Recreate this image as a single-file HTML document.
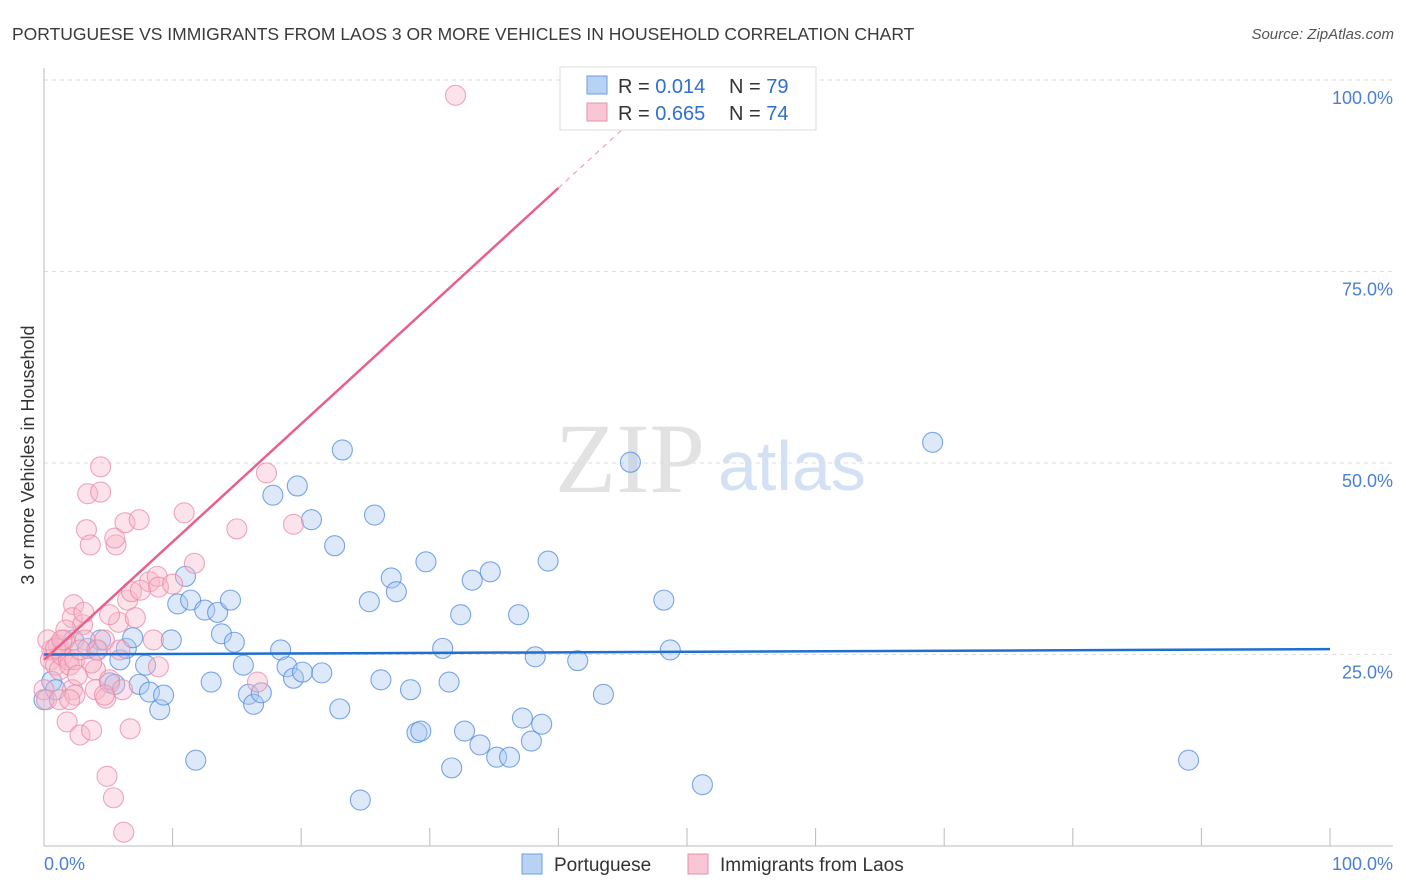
<!DOCTYPE html>
<html><head><meta charset="utf-8"><style>
body{margin:0;background:#fff;font-family:"Liberation Sans",sans-serif}
svg{display:block}
</style></head><body>
<svg id="c" width="1406" height="892">
<text x="12" y="40" font-size="17.5" fill="#3a3a3a">PORTUGUESE VS IMMIGRANTS FROM LAOS 3 OR MORE VEHICLES IN HOUSEHOLD CORRELATION CHART</text>
<text x="1394" y="39" font-size="15" fill="#555" font-style="italic" text-anchor="end">Source: ZipAtlas.com</text>
<text transform="translate(34,455) rotate(-90)" font-size="18" fill="#333" text-anchor="middle">3 or more Vehicles in Household</text>
<text x="555" y="492" font-size="100" fill="#e2e2e2" font-family="Liberation Serif,serif">ZIP</text>
<text x="718" y="490" font-size="70" fill="#d3e1f5">atlas</text>
<g id="grid"></g><g id="marks"></g><g id="lines"></g>
<g>
<rect x="560" y="67" width="256" height="63" fill="#fff" stroke="#ddd"/>
<rect x="587" y="76" width="20" height="18" fill="#b8d2f4" stroke="#6b9de0"/>
<rect x="587" y="103" width="20" height="18" fill="#f9c6d6" stroke="#ea8fab"/>
<text x="618" y="93" font-size="20" fill="#333">R = <tspan fill="#2f6fd0">0.014</tspan></text>
<text x="729" y="93" font-size="20" fill="#333">N = <tspan fill="#2f6fd0">79</tspan></text>
<text x="618" y="120" font-size="20" fill="#333">R = <tspan fill="#2f6fd0">0.665</tspan></text>
<text x="729" y="120" font-size="20" fill="#333">N = <tspan fill="#2f6fd0">74</tspan></text>
</g>
<g>
<rect x="522" y="854" width="20" height="20" fill="#b8d2f4" stroke="#6b9de0"/>
<text x="554" y="871" font-size="19" fill="#333">Portuguese</text>
<rect x="688" y="854" width="20" height="20" fill="#f9c6d6" stroke="#ea8fab"/>
<text x="720" y="871" font-size="19" fill="#333">Immigrants from Laos</text>
</g>
</svg>
<script>
const blueX=[0,0.6,0.9,2.3,3.4,4.4,4.1,5.1,5.5,5.9,6.4,6.9,7.4,7.9,8.2,9.0,9.3,9.9,10.4,11.0,11.4,11.8,12.5,13.0,13.5,13.8,14.5,14.8,15.5,15.9,16.3,16.9,17.8,18.4,18.9,19.4,19.7,20.1,20.8,21.6,22.6,23.0,23.2,24.6,25.3,25.7,26.2,27.0,27.4,28.5,29.0,29.3,29.7,31.0,31.5,31.7,32.4,32.7,33.3,33.9,34.7,35.2,36.2,36.9,37.2,37.9,38.2,38.7,39.2,41.5,43.5,45.6,48.2,48.7,51.2,69.1,89.0];
const blueY=[19.1,21.5,20.4,26.9,25.8,26.9,25.6,21.3,21.1,24.3,25.8,27.2,21.1,23.6,20.1,17.8,19.7,26.9,31.6,35.2,32.1,11.2,30.8,21.4,30.5,27.7,32.1,26.6,23.6,19.8,18.5,20.0,45.8,25.6,23.4,21.9,47.0,22.7,42.6,22.6,39.2,17.9,51.7,6.0,31.9,43.2,21.7,35.0,33.2,20.4,14.8,15.0,37.1,25.8,21.4,10.2,30.2,15.0,34.7,13.2,35.8,11.6,11.6,30.2,16.7,13.7,24.7,15.9,37.2,24.2,19.8,50.1,32.1,25.6,8.0,52.7,11.2];
const pinkX=[0,0.2,0.5,0.6,0.9,1.1,1.2,1.4,1.6,1.9,2.0,2.2,2.4,2.6,1.8,2.3,2.2,2.8,3.0,3.1,3.3,3.4,3.6,3.7,4.0,4.0,4.2,4.4,4.4,4.7,4.8,4.9,5.1,5.4,5.6,5.5,5.8,6.1,6.3,6.2,6.5,6.7,6.8,7.1,7.4,8.2,8.5,8.8,8.9,8.9,10.0,10.9,11.7,15.0,16.6,17.3,19.4,32.0,5.1,1.2,0.3,3.2,0.9,5.9,7.5,1.7,2.4,3.7,4.7,2.8,1.4,2.0];
const pinkY=[20.4,19.1,24.3,25.6,23.6,26.2,23.0,24.9,26.9,24.3,23.6,20.4,24.3,22.3,16.2,31.5,29.8,14.5,28.9,30.5,41.3,46.0,39.3,15.1,23.0,20.4,25.6,46.2,49.5,26.9,19.3,9.1,21.7,6.3,39.3,40.2,29.2,20.4,42.2,1.8,32.1,15.3,33.2,29.8,42.6,34.5,26.9,35.2,33.8,23.4,34.2,43.5,36.9,41.4,21.4,48.7,42.0,98.0,30.2,19.1,26.9,26.9,25.8,25.6,33.4,28.2,19.7,23.9,19.7,25.6,26.9,19.1];
const blueTrend=[25.0,25.7];
const pinkTrend=[24.3,1.54];
const yTicks=[25,50,75,100];
const xTicks=[0,10,20,30,40,50,60,70,80,90,100];
const NS='http://www.w3.org/2000/svg';
const sx=v=>44+v*12.86, sy=v=>846-v*7.66;
function mk(t,a,p){const e=document.createElementNS(NS,t);for(const k in a)e.setAttribute(k,a[k]);p.appendChild(e);return e;}
const grid=document.getElementById('grid'),marks=document.getElementById('marks'),lines=document.getElementById('lines');
for(const t of yTicks){
 const l=mk('line',{x1:44,x2:1393,y1:sy(t),y2:sy(t),stroke:'#ddd','stroke-dasharray':'4,4'},grid);
 
 
 const tx=mk('text',{x:1393,y:sy(t)+24,'font-size':18,fill:'#4a7fd6','text-anchor':'end'},grid);
 tx.textContent=t.toFixed(1)+'%';
 
 
}
mk('line',{x1:44,x2:44,y1:68,y2:846,stroke:'#bbb'},grid);
mk('line',{x1:44,x2:1393,y1:846,y2:846,stroke:'#bbb'},grid);
for(const t of xTicks){
 const l=mk('line',{x1:sx(t),x2:sx(t),y1:828,y2:846,stroke:'#bbb'},grid);
 
 
}
const xl=mk('text',{x:44,y:870,'font-size':18,fill:'#4a7fd6'},grid);xl.textContent='0.0%';


const xr=mk('text',{x:1393,y:870,'font-size':18,fill:'#4a7fd6','text-anchor':'end'},grid);xr.textContent='100.0%';


function pts(X,Y,fill,stroke,name){for(let i=0;i<X.length;i++){
 const c=mk('circle',{cx:sx(X[i]),cy:sy(Y[i]),r:10,fill:fill,'fill-opacity':0.4,stroke:stroke,'stroke-opacity':0.75,'stroke-width':1.1},marks);
 
 
}}
pts(blueX,blueY,'#a9c8f0','#4f8ade','portuguese-point');
pts(pinkX,pinkY,'#f7b6ca','#e889a6','laos-point');
const bl=mk('line',{x1:sx(0),y1:sy(blueTrend[0]),x2:sx(100),y2:sy(blueTrend[1]),stroke:'#1f6fd0','stroke-width':2.5},lines);


const pe=40, pd=(100-pinkTrend[0])/pinkTrend[1];
const pl=mk('line',{x1:sx(0),y1:sy(pinkTrend[0]),x2:sx(pe),y2:sy(pinkTrend[0]+pinkTrend[1]*pe),stroke:'#e8608a','stroke-width':2.5},lines);


const pdl=mk('line',{x1:sx(pe),y1:sy(pinkTrend[0]+pinkTrend[1]*pe),x2:sx(pd),y2:sy(100),stroke:'#f0a0b8','stroke-width':1.2,'stroke-dasharray':'5,5'},lines);


</script>
</body></html>
